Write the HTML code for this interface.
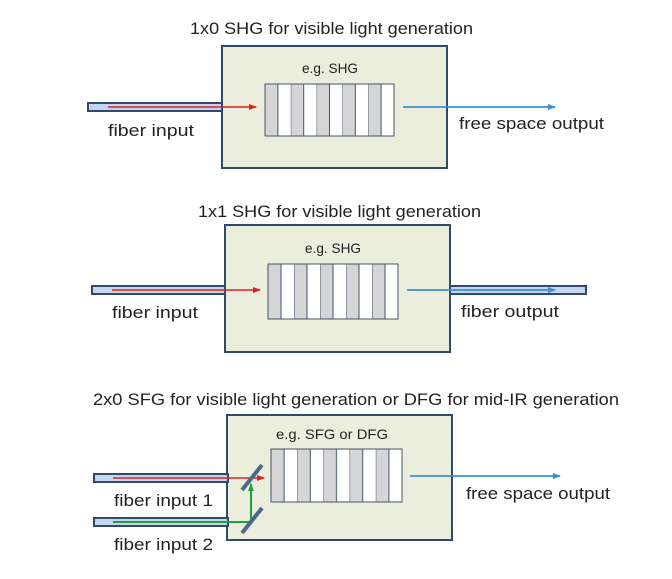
<!DOCTYPE html>
<html><head><style>
body{margin:0;background:#fff;}
svg text{font-family:"Liberation Sans",Arial,sans-serif;fill:#222;}
</style></head><body>
<svg width="672" height="574" viewBox="0 0 672 574" xmlns="http://www.w3.org/2000/svg">
<defs>
<marker id="r" markerWidth="8" markerHeight="8" refX="7" refY="4" orient="auto" markerUnits="userSpaceOnUse"><path d="M0,1 L8,4 L0,7z" fill="#e02020"/></marker>
<marker id="b" markerWidth="8" markerHeight="8" refX="7" refY="4" orient="auto" markerUnits="userSpaceOnUse"><path d="M0,1 L8,4 L0,7z" fill="#3a8fd8"/></marker>
<marker id="g" markerWidth="8" markerHeight="8" refX="7" refY="4" orient="auto" markerUnits="userSpaceOnUse"><path d="M0,1 L8,4 L0,7z" fill="#20a040"/></marker>
<pattern id="st1" x="265" y="0" width="25.8" height="10" patternUnits="userSpaceOnUse"><rect width="12.9" height="10" fill="#d5d5d8"/><rect x="12.9" width="12.9" height="10" fill="#fff"/><line x1="0" y1="0" x2="0" y2="10" stroke="#44546a" stroke-width="1"/><line x1="12.9" y1="0" x2="12.9" y2="10" stroke="#44546a" stroke-width="1"/></pattern>
<pattern id="st2" x="268" y="0" width="26" height="10" patternUnits="userSpaceOnUse"><rect width="13" height="10" fill="#d5d5d8"/><rect x="13" width="13" height="10" fill="#fff"/><line x1="0" y1="0" x2="0" y2="10" stroke="#44546a" stroke-width="1"/><line x1="13" y1="0" x2="13" y2="10" stroke="#44546a" stroke-width="1"/></pattern>
<pattern id="st3" x="271" y="0" width="26.2" height="10" patternUnits="userSpaceOnUse"><rect width="13.1" height="10" fill="#d5d5d8"/><rect x="13.1" width="13.1" height="10" fill="#fff"/><line x1="0" y1="0" x2="0" y2="10" stroke="#44546a" stroke-width="1"/><line x1="13.1" y1="0" x2="13.1" y2="10" stroke="#44546a" stroke-width="1"/></pattern>
</defs>

<!-- Section 1 -->
<text x="190" y="34" font-size="17" textLength="283" lengthAdjust="spacingAndGlyphs">1x0 SHG for visible light generation</text>
<rect x="222" y="46" width="225" height="122" fill="#ebeedd" stroke="#2f4a6a" stroke-width="2"/>
<text x="302" y="73" font-size="14" textLength="56" lengthAdjust="spacingAndGlyphs">e.g. SHG</text>
<rect x="265" y="84" width="129" height="52" fill="url(#st1)" stroke="#44546a" stroke-width="1"/>
<rect x="88" y="103" width="134" height="8" fill="#c5d5ee" stroke="#2f4a6a" stroke-width="2"/>
<line x1="108" y1="107" x2="256" y2="107" stroke="#e02020" stroke-width="1.5" marker-end="url(#r)"/>
<line x1="403" y1="107" x2="555" y2="107" stroke="#3a8fd8" stroke-width="1.8" marker-end="url(#b)"/>
<text x="108" y="136" font-size="17" textLength="86" lengthAdjust="spacingAndGlyphs">fiber input</text>
<text x="459" y="129" font-size="17" textLength="145" lengthAdjust="spacingAndGlyphs">free space output</text>

<!-- Section 2 -->
<text x="198" y="217" font-size="17" textLength="283" lengthAdjust="spacingAndGlyphs">1x1 SHG for visible light generation</text>
<rect x="225" y="225" width="225" height="127" fill="#ebeedd" stroke="#2f4a6a" stroke-width="2"/>
<text x="305" y="253" font-size="14" textLength="56" lengthAdjust="spacingAndGlyphs">e.g. SHG</text>
<rect x="268" y="264" width="130" height="55" fill="url(#st2)" stroke="#44546a" stroke-width="1"/>
<rect x="92" y="286" width="133" height="8" fill="#c5d5ee" stroke="#2f4a6a" stroke-width="2"/>
<rect x="450" y="286" width="136" height="8" fill="#c5d5ee" stroke="#2f4a6a" stroke-width="2"/>
<line x1="112" y1="290" x2="260" y2="290" stroke="#e02020" stroke-width="1.5" marker-end="url(#r)"/>
<line x1="407" y1="290" x2="555" y2="290" stroke="#3a8fd8" stroke-width="1.8" marker-end="url(#b)"/>
<text x="112" y="318" font-size="17" textLength="86" lengthAdjust="spacingAndGlyphs">fiber input</text>
<text x="461" y="317" font-size="17" textLength="98" lengthAdjust="spacingAndGlyphs">fiber output</text>

<!-- Section 3 -->
<text x="93" y="405" font-size="17" textLength="526" lengthAdjust="spacingAndGlyphs">2x0  SFG for visible light generation or DFG for mid-IR generation</text>
<rect x="227" y="415" width="225" height="125" fill="#ebeedd" stroke="#2f4a6a" stroke-width="2"/>
<text x="276" y="439" font-size="14" textLength="112" lengthAdjust="spacingAndGlyphs">e.g. SFG or DFG</text>
<rect x="271" y="449" width="131" height="53" fill="url(#st3)" stroke="#44546a" stroke-width="1"/>
<rect x="94" y="474" width="134" height="8" fill="#c5d5ee" stroke="#2f4a6a" stroke-width="2"/>
<rect x="94" y="518" width="134" height="8" fill="#c5d5ee" stroke="#2f4a6a" stroke-width="2"/>
<line x1="113" y1="478" x2="264" y2="478" stroke="#e02020" stroke-width="1.5" marker-end="url(#r)"/>
<polyline points="113,522 251,522 251,484" fill="none" stroke="#20a040" stroke-width="2" marker-end="url(#g)"/>
<line x1="242" y1="490" x2="262" y2="465" stroke="#4a6a8a" stroke-width="4"/>
<line x1="242" y1="533" x2="262" y2="508" stroke="#4a6a8a" stroke-width="4"/>
<line x1="410" y1="476" x2="560" y2="476" stroke="#3a8fd8" stroke-width="1.8" marker-end="url(#b)"/>
<text x="114" y="506" font-size="17" textLength="99" lengthAdjust="spacingAndGlyphs">fiber input 1</text>
<text x="114" y="550" font-size="17" textLength="99" lengthAdjust="spacingAndGlyphs">fiber input 2</text>
<text x="466" y="499" font-size="17" textLength="144" lengthAdjust="spacingAndGlyphs">free space output</text>
</svg>
</body></html>
